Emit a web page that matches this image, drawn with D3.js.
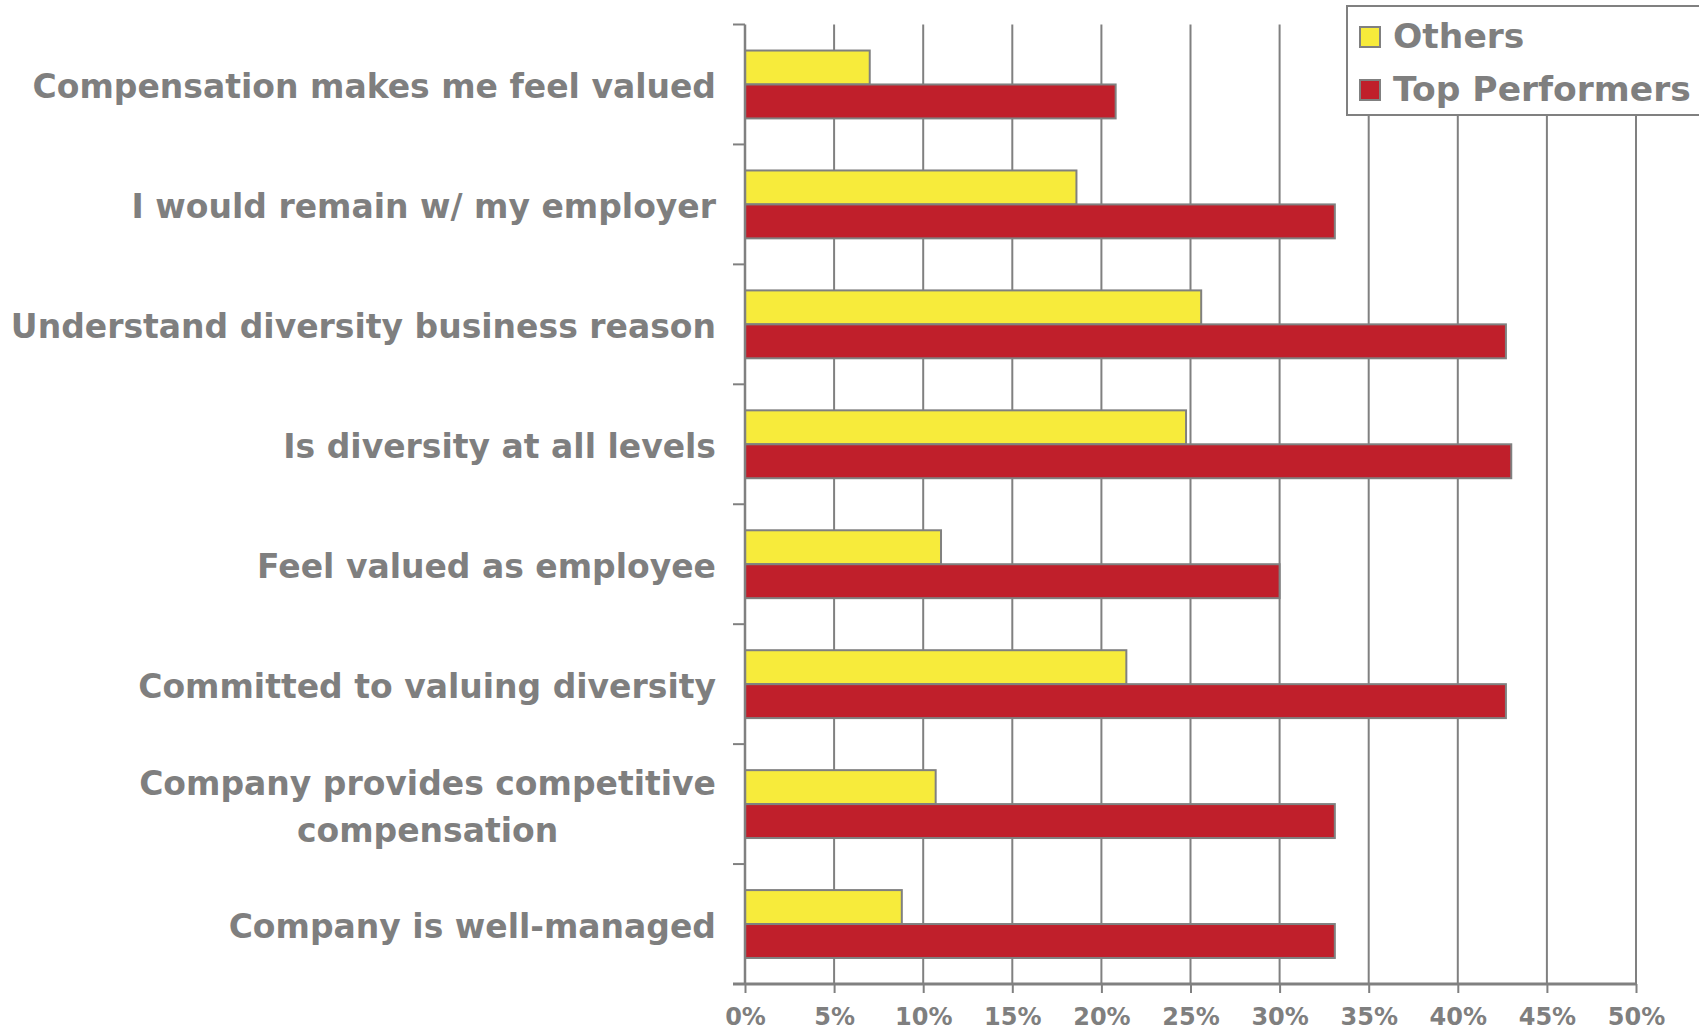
<!DOCTYPE html>
<html>
<head>
<meta charset="utf-8">
<script src="https://cdn.jsdelivr.net/npm/d3@7"></script>
<style>
  html, body { margin: 0; padding: 0; background: #fff; }
  svg { display: block; }
  text { font-family: "DejaVu Sans", Verdana, sans-serif; font-weight: bold; fill: #7f7f7f; }
</style>
</head>
<body>
<svg id="chart" width="1699" height="1031"></svg>
<script>
// Survey items, top to bottom
const categories = [
  "Compensation makes me feel valued",
  "I would remain w/ my employer",
  "Understand diversity business reason",
  "Is diversity at all levels",
  "Feel valued as employee",
  "Committed to valuing diversity",
  "Company provides competitive compensation",
  "Company is well-managed"
];
// Label lines (long items wrap onto two lines)
const labelLines = [
  ["Compensation makes me feel valued"],
  ["I would remain w/ my employer"],
  ["Understand diversity business reason"],
  ["Is diversity at all levels"],
  ["Feel valued as employee"],
  ["Committed to valuing diversity"],
  ["Company provides competitive", "compensation"],
  ["Company is well-managed"]
];
const seriesNames = ["Others", "Top Performers"];
// Percent agreeing, per item
const others        = [7.0, 18.6, 25.6, 24.75, 11.0, 21.4, 10.7, 8.8];
const topPerformers = [20.8, 33.1, 42.7, 43.0, 30.0, 42.7, 33.1, 33.1];
const xTicks = [0, 5, 10, 15, 20, 25, 30, 35, 40, 45, 50];
const xTickLabels = ["0%", "5%", "10%", "15%", "20%", "25%", "30%", "35%", "40%", "45%", "50%"];

const colors = { "Others": "#f7eb3b", "Top Performers": "#c01f2b" };
const lineGray = "#808080";

const svg = d3.select("#chart");

const x = d3.scaleLinear().domain([0, 50]).range([745, 1636]);
const y = d3.scaleBand().domain(categories).range([24.5, 984]).padding(0);
const bw = y.bandwidth();
const ySub = d3.scaleBand().domain(seriesNames).range([bw * 0.217, bw * 0.783]).padding(0);

const rows = categories.map((c, i) => ({
  cat: c,
  lines: labelLines[i],
  vals: [
    { s: "Others", v: others[i] },
    { s: "Top Performers", v: topPerformers[i] }
  ]
}));

// vertical gridlines
svg.append("g")
  .selectAll("line")
  .data(xTicks.filter(t => t > 0))
  .join("line")
  .attr("x1", d => x(d)).attr("x2", d => x(d))
  .attr("y1", y.range()[0]).attr("y2", y.range()[1])
  .attr("stroke", lineGray).attr("stroke-width", 2);

// bars
const groups = svg.append("g")
  .selectAll("g")
  .data(rows)
  .join("g")
  .attr("transform", d => `translate(0,${y(d.cat)})`);

groups.selectAll("rect")
  .data(d => d.vals)
  .join("rect")
  .attr("x", x(0))
  .attr("y", d => ySub(d.s))
  .attr("width", d => x(d.v) - x(0))
  .attr("height", ySub.bandwidth())
  .attr("fill", d => colors[d.s])
  .attr("stroke", lineGray)
  .attr("stroke-width", 2);

// left category axis: line plus ticks at band boundaries
const bounds = categories.map(c => y(c)).concat([y.range()[1]]);
svg.append("line")
  .attr("x1", x(0)).attr("x2", x(0))
  .attr("y1", y.range()[0]).attr("y2", y.range()[1])
  .attr("stroke", lineGray).attr("stroke-width", 2.5);
svg.append("g")
  .selectAll("line")
  .data(bounds)
  .join("line")
  .attr("x1", x(0) - 12).attr("x2", x(0))
  .attr("y1", d => d).attr("y2", d => d)
  .attr("stroke", lineGray).attr("stroke-width", 2);

// bottom value axis
const xAxis = d3.axisBottom(x)
  .tickValues(xTicks)
  .tickFormat((d, i) => xTickLabels[i])
  .tickSize(9)
  .tickSizeOuter(0)
  .tickPadding(14);
const gx = svg.append("g")
  .attr("transform", `translate(0,${y.range()[1]})`)
  .call(xAxis);
gx.select(".domain").remove();
gx.selectAll(".tick line").attr("stroke", lineGray).attr("stroke-width", 2);
gx.selectAll(".tick text")
  .attr("font-size", 24)
  .attr("dy", 0)
  .attr("y", 41)
  .style("font-family", "'DejaVu Sans', Verdana, sans-serif")
  .style("font-weight", "bold")
  .attr("fill", "#7f7f7f");
svg.append("line")
  .attr("x1", x(0) - 12).attr("x2", x(50))
  .attr("y1", y.range()[1]).attr("y2", y.range()[1])
  .attr("stroke", lineGray).attr("stroke-width", 3);

// category labels
const labelRight = 716;
const lineGap = 47;
const labels = svg.append("g")
  .selectAll("text")
  .data(rows)
  .join("text")
  .attr("font-size", 33);

labels.each(function(d) {
  const t = d3.select(this);
  const cy = y(d.cat) + bw / 2;
  if (d.lines.length === 1) {
    t.attr("text-anchor", "end")
      .attr("x", labelRight)
      .attr("y", cy + 14)
      .text(d.lines[0]);
  } else {
    // measure the first line to centre the block under it
    const first = t.append("tspan").text(d.lines[0]);
    const w = first.node().getComputedTextLength();
    const cx = labelRight - w / 2;
    t.attr("text-anchor", "middle");
    const top = cy + 14 - lineGap * (d.lines.length - 1) / 2;
    first.attr("x", cx).attr("y", top);
    d.lines.slice(1).forEach((ln, k) => {
      t.append("tspan").attr("x", cx).attr("y", top + lineGap * (k + 1)).text(ln);
    });
  }
});

// legend
const legend = svg.append("g");
legend.append("rect")
  .attr("x", 1347).attr("y", 6)
  .attr("width", 400).attr("height", 109)
  .attr("fill", "#fff")
  .attr("stroke", lineGray).attr("stroke-width", 2);
const legendItems = legend.selectAll("g")
  .data(seriesNames)
  .join("g")
  .attr("transform", (d, i) => `translate(1360,${27 + i * 53})`);
legendItems.append("rect")
  .attr("width", 20).attr("height", 20)
  .attr("fill", d => colors[d])
  .attr("stroke", lineGray).attr("stroke-width", 2);
legendItems.append("text")
  .attr("x", 33).attr("y", 21)
  .attr("font-size", 34.5)
  .text(d => d);
</script>
</body>
</html>
